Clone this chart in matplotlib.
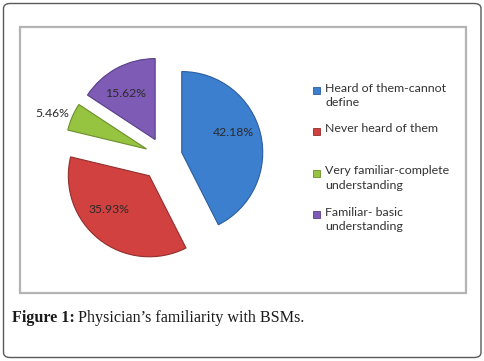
import numpy as np
import matplotlib
matplotlib.use("Agg")
import matplotlib.pyplot as plt
from matplotlib.patches import FancyBboxPatch, Rectangle

# data
categories = ["Heard of them-cannot\ndefine", "Never heard of them",
              "Very familiar-complete\nunderstanding", "Familiar- basic\nunderstanding"]
shares = [42.18, 35.93, 5.46, 15.62]
colors = ["#3C7FCF", "#D0413F", "#96C340", "#7E5BB4"]
edges = ["#2B5E9E", "#922E2C", "#6C8F2C", "#583E86"]
caption_bold = "Figure 1:"
caption_rest = "Physician\u2019s familiarity with BSMs."

W, H = 484, 361
R = 81.0              # pie radius in pixels
CX, CY = 164.4, 156.7  # pie centre in pixels (from top-left)
explode = [0.22, 0.30, 0.24, 0.24]
# label placement: (distance in radii, angle shift in degrees)
label_pos = [(0.69, 8), (0.65, -12.5), (1.24, 3), (0.68, 4)]


def fx(px):
    return px / W


def fy(py):
    return 1 - py / H


fig = plt.figure(figsize=(W / 100, H / 100), dpi=100)
fig.patch.set_facecolor("white")

# outer rounded border and chart frame
fig.patches.append(FancyBboxPatch((fx(3.5), fy(357.5)), fx(477.5), (354 / H),
                                  boxstyle="round,pad=0,rounding_size=0.014",
                                  transform=fig.transFigure, fill=False,
                                  edgecolor="#5a5a5a", linewidth=1.0))
fig.patches.append(Rectangle((fx(19.5), fy(292.5)), fx(446), 266 / H,
                             transform=fig.transFigure, fill=False,
                             edgecolor="#b4b4b4", linewidth=1.6))

ax = fig.add_axes([0, 0, 1, 1])
wedges, _ = ax.pie(
    shares, explode=explode, colors=colors, startangle=90, counterclock=False,
    radius=1, wedgeprops=dict(linewidth=0.8))
for w, ec in zip(wedges, edges):
    w.set_edgecolor(ec)

# percentage labels, showing the values as printed in the source
for w, val, (d, shift) in zip(wedges, shares, label_pos):
    mid = np.deg2rad((w.theta1 + w.theta2) / 2 + shift)
    cx, cy = w.center
    ax.text(cx + d * np.cos(mid), cy + d * np.sin(mid), f"{val:.2f}%",
            ha="center", va="center", fontsize=8.8, color="#2b2b2b",
            family="Lato")

ax.set_xlim(-CX / R, (W - CX) / R)
ax.set_ylim(-(H - CY) / R, CY / R)
ax.set_aspect("auto")
ax.axis("off")

# legend (Excel style: marker at first line of each entry)
legend_rows = [90, 131, 173, 214]
for cat, col, ec, py in zip(categories, colors, edges, legend_rows):
    fig.patches.append(Rectangle((fx(313), fy(py + 3.5)), 6.5 / W, 6.5 / H,
                                 transform=fig.transFigure, facecolor=col,
                                 edgecolor=ec, linewidth=0.6))
    fig.text(fx(325), fy(py - 7.5), cat, ha="left", va="top", fontsize=8.9,
             family="Lato", color="#333333", linespacing=1.35)

# caption
t1 = fig.text(fx(12), fy(318), caption_bold, ha="left", va="center",
              fontsize=11.6, family="Liberation Serif", fontweight="bold",
              color="#1a1a1a")
fig.canvas.draw()
bb = t1.get_window_extent()
fig.text((bb.x1 + 3) / W, fy(318), caption_rest, ha="left", va="center",
         fontsize=11.6, family="Liberation Serif", color="#1a1a1a")

fig.savefig("out.png", dpi=100)
